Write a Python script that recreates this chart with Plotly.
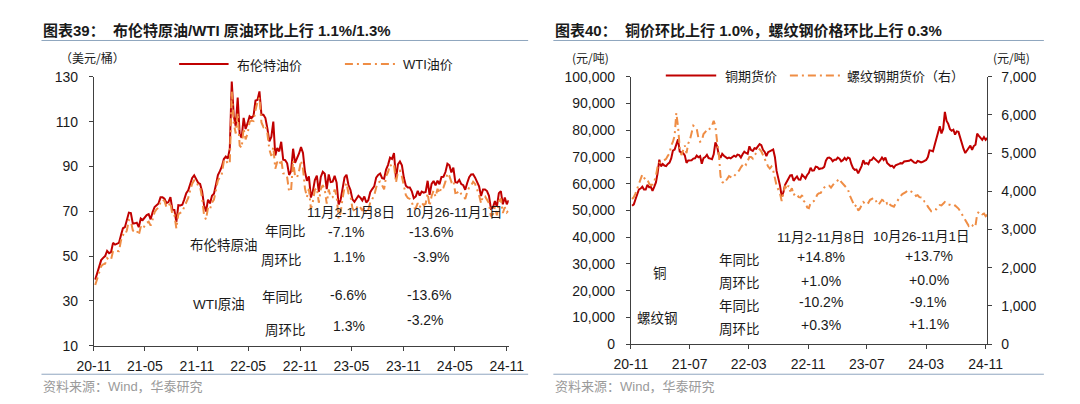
import pandas as pd
import plotly.graph_objects as go

W, H = 1080, 404

# weekly (Friday) closes, 2020-11-06 .. 2024-11-08
brent = [
    39.5, 42.8, 44.9, 48.2, 49.2, 50.0, 52.3, 51.3,
    51.8, 55.9, 55.1, 55.4, 55.9, 59.3, 62.4, 62.9, 66.1, 69.4, 69.2, 64.5, 64.6,
    64.9, 62.9, 66.8, 66.1, 67.3, 68.3, 68.7, 66.4, 69.6, 71.9, 72.7, 73.5, 76.2,
    76.2, 75.6, 73.6, 74.1, 76.3, 70.7, 70.6, 65.2, 72.7, 72.6, 72.9, 75.3, 78.1,
    79.3, 82.4, 84.9, 86.0, 84.4, 82.7, 82.2, 78.9, 72.7, 69.9, 75.2, 73.5, 76.9, 77.8,
    81.8, 86.1, 87.9, 90.0, 93.3, 94.4, 93.5, 97.9, 127.9, 112.7, 107.9, 120.7,
    104.4, 102.8, 111.7, 106.7, 109.3, 112.4, 111.6, 112.6, 119.4, 119.7, 123.5, 113.1, 113.1,
    111.6, 107.0, 101.2, 103.2, 110.0, 94.9, 98.2, 96.7, 101.0, 93.0, 92.8, 91.4, 86.2, 88.0,
    97.9, 91.6, 93.5, 95.8, 98.6, 96.0, 87.6, 83.6, 85.6, 76.1, 79.0, 83.9, 85.9,
    78.6, 85.3, 87.6, 86.7, 79.9, 86.4, 83.0, 83.2, 85.8, 82.8, 73.0, 75.0, 79.8,
    85.1, 86.3, 81.7, 79.5, 75.3, 74.2, 75.6, 76.9, 76.1, 74.8, 76.6, 73.9, 74.9,
    78.5, 79.9, 81.1, 85.0, 86.2, 86.8, 84.8, 84.5, 88.6, 90.7, 93.9, 93.3, 96.0,
    84.6, 90.9, 92.2, 90.5, 84.9, 81.4, 80.6, 80.6, 78.9, 75.8, 76.6, 79.1, 77.0,
    78.8, 78.3, 78.6, 83.6, 77.3, 82.2, 83.5, 81.6, 83.6, 82.1, 85.3, 85.4, 87.5,
    91.2, 90.5, 87.3, 89.5, 83.0, 82.8, 84.0, 82.1, 81.6, 79.6, 82.6, 85.2, 86.4,
    86.5, 85.0, 82.6, 81.1, 76.8, 79.7, 79.7, 79.0, 76.9, 71.1, 71.6, 74.5, 72.0,
    78.1, 79.0, 73.1, 76.1, 73.1, 74.9,
]
wti = [
    37.1, 40.1, 42.4, 45.5, 46.3, 46.6, 49.1, 48.2,
    48.5, 52.2, 52.4, 52.3, 52.2, 56.9, 59.5, 59.2, 61.5, 66.1, 65.6, 61.4, 61.0,
    61.5, 59.3, 63.1, 62.1, 63.6, 64.9, 65.4, 63.6, 66.3, 69.6, 70.9, 71.6, 74.1,
    75.2, 74.6, 71.8, 72.1, 74.0, 68.3, 68.4, 62.3, 68.7, 69.3, 69.7, 72.0, 74.0,
    75.9, 79.4, 82.3, 83.8, 83.6, 81.3, 80.8, 76.1, 68.2, 66.3, 71.7, 70.9, 73.8, 75.2,
    78.9, 83.8, 85.1, 86.8, 92.3, 93.1, 91.1, 91.6, 123.7, 109.3, 104.7, 113.9,
    99.3, 98.3, 107.0, 102.1, 104.7, 109.8, 110.5, 110.3, 115.1, 118.9, 120.7, 109.6, 107.6,
    108.4, 104.8, 97.6, 94.7, 98.6, 89.0, 92.1, 90.8, 93.1, 86.9, 86.8, 85.1, 78.7, 79.5,
    92.6, 85.6, 85.1, 87.9, 92.6, 89.0, 80.1, 76.3, 80.0, 71.0, 74.3, 79.6, 80.3,
    73.8, 79.9, 81.6, 79.7, 73.4, 79.7, 76.3, 76.3, 79.7, 76.7, 66.7, 69.3, 75.7,
    80.7, 82.5, 77.9, 76.8, 71.3, 70.0, 71.7, 72.7, 71.7, 70.2, 71.8, 69.2, 70.6,
    73.9, 75.4, 77.1, 80.6, 82.8, 83.2, 81.3, 79.8, 85.6, 87.5, 90.8, 90.0, 90.8,
    82.8, 87.7, 88.1, 85.5, 80.5, 77.2, 75.9, 75.5, 74.1, 71.2, 71.4, 73.6, 71.7,
    73.8, 72.7, 73.4, 78.0, 72.3, 76.8, 79.2, 76.5, 80.0, 78.0, 81.0, 80.6, 83.2,
    86.9, 85.7, 83.1, 83.9, 78.1, 78.3, 79.2, 77.7, 77.0, 75.5, 78.5, 80.7, 81.5,
    83.2, 82.2, 80.1, 77.2, 73.5, 76.8, 76.7, 74.8, 73.6, 67.7, 68.7, 71.9, 68.2,
    74.4, 75.6, 69.2, 71.8, 69.5, 70.4,
]
copper = [
    51800, 52300, 54200, 56300, 57900, 58200, 58900, 57800,
    57800, 59600, 58700, 58800, 57300, 58800, 60500, 64000, 69000, 66500, 67400, 66800, 66600,
    67400, 67900, 69500, 72400, 72800, 74800, 76600, 72000, 71800, 71500, 70600, 67800, 68700,
    68700, 68800, 69400, 69500, 70500, 69900, 70300, 67500, 69600, 70000, 70800, 69600, 69400,
    69200, 71000, 75500, 74000, 70800, 69700, 71200, 70500, 70100, 69500, 69800, 69500, 70000, 70500,
    70100, 70900, 70700, 69800, 71000, 72000, 71500, 71200, 74000, 72600, 72300, 73300,
    73100, 73800, 74800, 74400, 72700, 71900, 70300, 71800, 72000, 72500, 72800, 70000, 64800,
    62200, 59300, 55300, 56800, 59600, 60800, 62300, 63100, 63200, 61100, 62000, 62700, 61600, 61500,
    63400, 62600, 62000, 63300, 64100, 66000, 64900, 65000, 66400, 66200, 65500, 65700, 65800,
    66300, 68600, 69700, 69800, 69400, 68400, 69000, 69000, 69800, 69400, 68400, 68800, 69700,
    68900, 69800, 69500, 67300, 65800, 65200, 65300, 63900, 65300, 66600, 68800, 67500, 67700,
    67300, 68800, 68900, 69800, 69300, 68800, 68000, 68800, 69800, 68900, 69800, 67800, 67200,
    66600, 66700, 66000, 66900, 67300, 67400, 67700, 67600, 68300, 68400, 68700, 68600, 69000,
    68300, 67900, 67800, 68500, 68300, 68000, 68200, 68500, 68900, 70000, 72500, 72400, 72100,
    74500, 77100, 78900, 81500, 78800, 80500, 86900, 83500, 82400, 80400, 79800, 80200, 78400,
    79600, 79400, 76900, 75100, 73000, 71500, 72600, 73700, 74300, 72700, 74100, 74600, 78700,
    77900, 77000, 76400, 77400, 76400, 77100,
]
rebar = [
    3800, 3850, 3950, 4060, 4200, 4330, 4440, 4360,
    4300, 4310, 4200, 4160, 4180, 4260, 4400, 4650, 4750, 4750, 4790, 4820, 4850,
    4930, 5000, 5200, 5300, 5450, 6050, 5700, 5150, 4950, 5100, 5200, 5000, 5250,
    5350, 5550, 5720, 5680, 5640, 5400, 5300, 5330, 5500, 5550, 5620, 5600, 5680,
    5720, 5850, 5700, 5300, 5000, 4400, 4250, 4210, 4260, 4330, 4400, 4380, 4350, 4400,
    4450, 4500, 4550, 4630, 4700, 4750, 4700, 4800, 4900, 4900, 4860, 4950,
    5000, 5050, 5100, 5050, 4950, 4850, 4750, 4650, 4600, 4650, 4550, 4300, 4150,
    4050, 3950, 3750, 3950, 4150, 4050, 4150, 4000, 4080, 3900, 3950, 3920, 3850, 3840,
    3900, 3750, 3700, 3580, 3560, 3700, 3720, 3750, 3830, 3920, 3950, 3960, 4050,
    4100, 4150, 4150, 4150, 4100, 4180, 4220, 4250, 4280, 4330, 4250, 4200, 4150,
    4080, 4050, 3900, 3800, 3700, 3600, 3650, 3500, 3550, 3650, 3720, 3680, 3730,
    3700, 3780, 3800, 3830, 3800, 3700, 3650, 3730, 3780, 3750, 3780, 3680, 3720,
    3640, 3620, 3600, 3680, 3750, 3830, 3880, 3930, 3950, 3980, 4020, 4030, 4000,
    3980, 3950, 3880, 3900, 3850, 3830, 3830, 3730, 3700, 3600, 3520, 3480, 3500,
    3540, 3530, 3600, 3640, 3630, 3680, 3720, 3700, 3650, 3650, 3620, 3610, 3630,
    3600, 3550, 3480, 3400, 3350, 3280, 3200, 3100, 3150, 3120, 3060, 3100, 3400,
    3470, 3450, 3400, 3420, 3350, 3390,
]

oil_ticks = ["2020-11-01", "2021-05-01", "2021-11-01", "2022-05-01", "2022-11-01",
             "2023-05-01", "2023-11-01", "2024-05-01", "2024-11-01"]
oil_tick_text = ["20-11", "21-05", "21-11", "22-05", "22-11", "23-05", "23-11", "24-05", "24-11"]
metal_ticks = ["2020-11-01", "2021-07-01", "2022-03-01", "2022-11-01",
               "2023-07-01", "2024-03-01", "2024-11-01"]
metal_tick_text = ["20-11", "21-07", "22-03", "22-11", "23-07", "24-03", "24-11"]

oil_periods = ["11月2-11月8日", "10月26-11月1日"]
brent_chg = ["-7.1%", "-13.6%", "1.1%", "-3.9%"]
wti_chg = ["-6.6%", "-13.6%", "1.3%", "-3.2%"]
metal_periods = ["11月2-11月8日", "10月26-11月1日"]
copper_chg = ["+14.8%", "+13.7%", "+1.0%", "+0.0%"]
rebar_chg = ["-10.2%", "-9.1%", "+0.3%", "+1.1%"]

RED = "#C00000"
ORANGE = "#EF8D45"
AXIS = "#404040"
RULE = "#8FA6BF"
FONT = "Liberation Sans, Arial, Noto Sans CJK SC"
CJK = "Noto Sans CJK SC"

weeks = pd.date_range("2020-11-06", periods=len(brent), freq="W-FRI")

fig = go.Figure()
fig.add_trace(go.Scatter(x=weeks, y=brent, mode="lines", line=dict(color=RED, width=2),
                         xaxis="x", yaxis="y"))
fig.add_trace(go.Scatter(x=weeks, y=wti, mode="lines",
                         line=dict(color=ORANGE, width=2, dash="8px,4px,2px,4px"),
                         xaxis="x", yaxis="y"))
fig.add_trace(go.Scatter(x=weeks, y=copper, mode="lines", line=dict(color=RED, width=2),
                         xaxis="x2", yaxis="y2"))
fig.add_trace(go.Scatter(x=weeks, y=rebar, mode="lines",
                         line=dict(color=ORANGE, width=2, dash="8px,4px,2px,4px"),
                         xaxis="x2", yaxis="y3"))

ax = dict(showline=True, linecolor=AXIS, linewidth=1, ticks="outside", ticklen=4,
          tickcolor=AXIS, showgrid=False, zeroline=False,
          tickfont=dict(family=FONT, size=14, color="#1a1a1a"))


def py(y):
    return 1 - y / H


fig.update_layout(
    width=W, height=H, autosize=False, showlegend=False,
    margin=dict(l=0, r=0, t=0, b=0),
    paper_bgcolor="white", plot_bgcolor="white",
    xaxis=dict(ax, domain=[71 / W, 499 / W], anchor="y",
               range=["2020-11-01", "2024-11-08"], tickmode="array",
               tickvals=oil_ticks, ticktext=oil_tick_text, ticklabelstandoff=3),
    yaxis=dict(ax, domain=[py(343.3), py(63.3)], anchor="x", range=[10, 130],
               tickmode="array", tickvals=[10, 30, 50, 70, 90, 110, 130], ticklabelstandoff=8),
    xaxis2=dict(ax, domain=[625 / W, 992.7 / W], anchor="y2",
                range=["2020-11-01", "2024-11-08"], tickmode="array",
                tickvals=metal_ticks, ticktext=metal_tick_text, ticklabelstandoff=3),
    yaxis2=dict(ax, domain=[py(341.7), py(63.3)], anchor="x2", range=[0, 100000],
                dtick=10000, tickformat=",d", ticklabelstandoff=8),
    yaxis3=dict(ax, overlaying="y2", side="right", anchor="x2", range=[0, 7000],
                dtick=1000, tickformat=",d", ticklabelstandoff=6),
)


def text(x, y, s, size=13.5, color="#1a1a1a", anchor="center", family=FONT):
    fig.add_annotation(xref="paper", yref="paper", x=x / W, y=py(y), text=s,
                       showarrow=False, xanchor=anchor, yanchor="middle",
                       font=dict(family=family, size=size, color=color))


def hline(x0, x1, y, color, width=1, dash="solid"):
    fig.add_shape(type="line", xref="paper", yref="paper", x0=x0 / W, x1=x1 / W,
                  y0=py(y), y1=py(y), line=dict(color=color, width=width, dash=dash))


# titles and rules
text(17, 15, "<b>图表39：\u00a0\u00a0布伦特原油/WTI 原油环比上行 1.1%/1.3%</b>", size=15, anchor="left")
text(545, 15, "<b>图表40：\u00a0\u00a0铜价环比上行 1.0%，螺纹钢价格环比上行 0.3%</b>", size=15, anchor="left")
hline(17, 519, 25.5, RULE)
hline(545, 1051, 25.5, RULE)
hline(17, 519, 373, RULE)
hline(545, 1051, 373, RULE)
text(17, 386, "资料来源：Wind，华泰研究", size=13, color="#9a9a9a", anchor="left")
text(545, 386, "资料来源：Wind，华泰研究", size=13, color="#9a9a9a", anchor="left")

# units
text(34, 43, "（美元/桶）", size=12, anchor="left", family=CJK)
text(562, 43, "(元/吨)", size=12, anchor="left", family=CJK)
text(996, 43, "(元/吨)", size=12, anchor="left", family=CJK)

# legends
hline(159, 210, 50, RED, 2)
text(217, 50, "布伦特油价", size=13, anchor="left", family=CJK)
hline(330, 384, 50, ORANGE, 2, "8px,4px,2px,4px")
text(388, 50, "WTI油价", size=13, anchor="left")
hline(661, 713, 62, RED, 2)
text(720, 62, "铜期货价", size=13, anchor="left", family=CJK)
hline(789, 841, 62, ORANGE, 2, "8px,4px,2px,4px")
text(846, 62, "螺纹钢期货价（右）", size=13, anchor="left", family=CJK)

# oil table
text(336, 205, oil_periods[0])
text(443, 205, oil_periods[1])
text(205, 237, "布伦特原油", family=CJK)
text(269, 223, "年同比", family=CJK)
text(265, 253, "周环比", family=CJK)
text(332, 225, brent_chg[0], size=14)
text(419, 225, brent_chg[1], size=14)
text(334, 251, brent_chg[2], size=14)
text(419, 251, brent_chg[3], size=14)
text(200, 300, "WTI原油")
text(266, 292, "年同比", family=CJK)
text(269, 326, "周环比", family=CJK)
text(334, 290, wti_chg[0], size=14)
text(417, 290, wti_chg[1], size=14)
text(334, 323, wti_chg[2], size=14)
text(413, 317, wti_chg[3], size=14)

# metals table
text(821, 231, metal_periods[0])
text(925, 230, metal_periods[1])
text(655, 267, "铜", family=CJK)
text(652, 313, "螺纹钢", family=CJK)
for y, label in [(253, "年同比"), (277, "周环比"), (301, "年同比"), (325, "周环比")]:
    text(737, y, label, family=CJK)
text(821, 251, copper_chg[0], size=14)
text(932, 250, copper_chg[1], size=14)
text(821, 276, copper_chg[2], size=14)
text(932, 275, copper_chg[3], size=14)
text(821, 298, rebar_chg[0], size=14)
text(932, 298, rebar_chg[1], size=14)
text(821, 322, rebar_chg[2], size=14)
text(932, 321, rebar_chg[3], size=14)

fig.write_html("out.html")
